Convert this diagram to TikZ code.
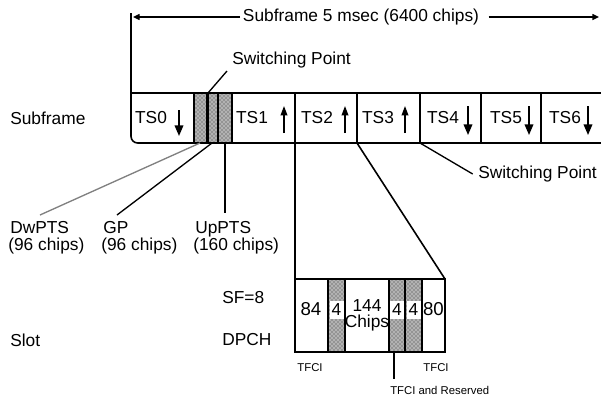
\documentclass[tikz,border=0pt]{standalone}
\usepackage{fontspec}
\setmainfont{Liberation Sans}
\usetikzlibrary{arrows.meta,patterns}
\begin{document}
\begin{tikzpicture}[x=0.75pt,y=-0.75pt,
  lab/.style={font=\fontsize{13}{12.75}\selectfont, inner sep=0pt},
  sm/.style={font=\fontsize{8.5}{10}\selectfont, inner sep=0pt},
  box/.style={line width=1.2pt},
  thin/.style={line width=1pt},
  shaded/.style={fill=gray!60, postaction={pattern=crosshatch dots, pattern color=black!80}},
  whitecell/.style={lab, fill=white, inner sep=0pt, minimum width=10.5pt, minimum height=14pt},
  uparr/.style={line width=1.1pt, -{Triangle[length=7pt,width=5pt]}},
  dnarr/.style={line width=1.1pt, -{Triangle[length=8pt,width=6.5pt]}},
  dimarr/.style={line width=1pt, -{Triangle[length=5pt,width=4.5pt]}}
]
\useasboundingbox (0,0) rectangle (601,400);

% shaded special slots in subframe
\path[shaded] (194,93) rectangle (232,143);
\draw[line width=1.8pt] (207.5,93) -- (207.5,143);
\draw[line width=1.4pt] (218,93) -- (218,143);

% subframe box
\draw[box, rounded corners=5pt] (131,13) -- (131,143) -- (601,143);
\draw[box] (131,93) -- (601,93);
\foreach \x in {194,232,295,357,420,481,541}
  \draw[box] (\x,93) -- (\x,143);

% dimension line
\node[lab, inner xsep=2pt] (dim) at (361,17) {Subframe 5 msec (6400 chips)};
\coordinate (dl) at (133,17);
\coordinate (dr) at (599,17);
\draw[dimarr] (dim.west) -- (dl);
\draw[dimarr] ([xshift=5pt]dim.east) -- (dr);

% row label
\node[lab, anchor=west] (sub) at (10,118) {Subframe};

% timeslot labels and arrows
\node[lab] (ts0) at (151,118) {TS0};
\node[lab] (ts1) at (252,118) {TS1};
\node[lab] (ts2) at (317,118) {TS2};
\node[lab] (ts3) at (378,118) {TS3};
\node[lab] (ts4) at (443,118) {TS4};
\node[lab] (ts5) at (506,118) {TS5};
\node[lab] (ts6) at (565,118) {TS6};
\coordinate (a0a) at (179,110); \coordinate (a0b) at (179,136);
\coordinate (a1a) at (284,133); \coordinate (a1b) at (284,106);
\coordinate (a2a) at (345,133); \coordinate (a2b) at (345,106);
\coordinate (a3a) at (405,133); \coordinate (a3b) at (405,106);
\coordinate (a4a) at (468,106); \coordinate (a4b) at (468,135);
\coordinate (a5a) at (529,106); \coordinate (a5b) at (529,135);
\coordinate (a6a) at (588,106); \coordinate (a6b) at (588,135);
\draw[dnarr] (a0a) -- (a0b);
\foreach \i in {1,2,3} \draw[uparr] (a\i a) -- (a\i b);
\foreach \i in {4,5,6} \draw[dnarr] (a\i a) -- (a\i b);

% switching points
\node[lab, anchor=west] (sw1) at (232,60) {Switching Point};
\coordinate (sp1) at (208,93);
\coordinate (sp1e) at (227,71);
\draw[thin] (sp1) -- (sp1e);
\node[lab, anchor=west] (sw2) at (478,174) {Switching Point};
\coordinate (sp2) at (420,143);
\draw[thin] (sp2) -- ([xshift=-4pt]sw2.west);

% special slot labels
\node[lab, anchor=north west, align=left] (dw) at (8,221) {\hspace*{1.5pt}DwPTS\\(96 chips)};
\node[lab, anchor=north west, align=left] (gp) at (101,221) {\hspace*{1.5pt}GP\\(96 chips)};
\node[lab, anchor=north west, align=left] (up) at (193,221) {\hspace*{1.5pt}UpPTS\\(160 chips)};
\coordinate (dws) at (200,143); \coordinate (dwe) at (40,215);
\coordinate (gps) at (212,143); \coordinate (gpe) at (117,215);
\coordinate (ups) at (225,143); \coordinate (upe) at (225,213);
\draw[thin, gray] (dws) -- (dwe);
\draw[thin] (gps) -- (gpe);
\draw[thin] (ups) -- (upe);

% slot expansion
\path[shaded] (328,279) rectangle (345,352);
\path[shaded] (389,279) rectangle (422,352);
\draw[box] (295,143) -- (295,352) -- (445,352) -- (445,279) -- (295,279);
\draw[box] (357,143) -- (445,279);
\foreach \x in {328,345,389,405,422}
  \draw[thin] (\x,279) -- (\x,352);

\node[lab, font=\fontsize{14}{14}\selectfont] (n84) at (311,309) {84};
\node[whitecell] (n4a) at (336.5,310) {4};
\node[lab, align=center, font=\fontsize{13}{12}\selectfont] (n144) at (367,315) {144\\Chips};
\node[whitecell] (n4b) at (397,310) {4};
\node[whitecell] (n4c) at (413.5,310) {4};
\node[lab, font=\fontsize{14}{14}\selectfont] (n80) at (433.5,309) {80};

\node[lab, anchor=west] (sf) at (222,298) {SF=8};
\node[lab, anchor=west] (dpch) at (222,340) {DPCH};
\node[lab, anchor=west] (slot) at (10,340) {Slot};

\node[sm] (tf1) at (310,368) {TFCI};
\node[sm] (tf2) at (436,368) {TFCI};
\node[sm, anchor=west] (tfr) at (390,390) {TFCI and Reserved};
\coordinate (trs) at (394,352);
\coordinate (tre) at (394,379);
\draw[thin] (trs) -- (tre);
\end{tikzpicture}
\end{document}
